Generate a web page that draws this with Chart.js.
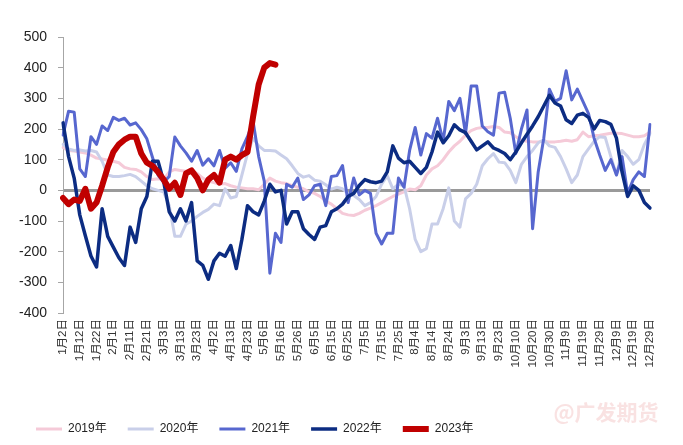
<!DOCTYPE html>
<html>
<head>
<meta charset="utf-8">
<script src="https://cdn.jsdelivr.net/npm/chart.js@4.4.0/dist/chart.umd.min.js"></script>
<style>
  html, body { margin: 0; padding: 0; background: #fff; }
  #wrap { width: 683px; height: 445px; position: relative; }
</style>
</head>
<body>
<div id="wrap"><canvas id="spreadChart"></canvas></div>
<script>
// tick labels on the date axis (one every 3 data points)
const dateLabels = ['1月2日','1月12日','1月22日','2月1日','2月11日','2月21日','3月3日','3月13日','3月23日',
  '4月2日','4月13日','4月23日','5月6日','5月16日','5月26日','6月5日','6月15日','6月25日','7月5日',
  '7月15日','7月25日','8月4日','8月14日','8月24日','9月3日','9月13日','9月23日','10月10日','10月20日',
  '10月30日','11月9日','11月19日','11月29日','12月9日','12月19日','12月29日'];

const yearNames = ['2019年', '2020年', '2021年', '2022年', '2023年'];

const v2019 = [140,130,128,125,122,115,105,102,98,95, 90,75,70,68,60,45,35,38,35,60,
  68,65,62,65,55,40,30,25,20,22, 15,10,8,5,5,2,20,40,30,25,
  22,15,10,5,-5,-10,-20,-35,-45,-60, -75,-80,-82,-75,-65,-58,-50,-40,-30,-20,
  -12,-5,4,2,15,50,70,80,100,125, 145,160,180,195,202,205,205,208,205,190,
  188,175,163,160,158,158,160,158,158,160, 163,160,165,190,175,178,180,183,186,186,
  185,180,175,175,178,190];

const v2020 = [150,135,130,132,128,130,125,95,50,45, 45,48,52,45,30,15,5,0,-5,-50,
  -150,-150,-110,-100,-85,-72,-62,-45,-50,5, -25,-20,50,120,170,145,130,130,128,115,
  103,80,55,43,48,33,30,18,4,10, 5,-10,-17,-30,-50,-40,-20,20,48,5,
  20,15,-60,-160,-200,-190,-110,-110,-60,8, -100,-120,-28,-10,20,80,103,120,92,90,
  65,25,85,110,130,155,165,145,140,110, 70,25,50,110,135,160,175,172,110,50,
  130,110,85,100,150,185];

const v2021 = [180,258,255,70,45,175,150,210,195,238, 228,235,213,220,198,168,108,50,26,45,
  174,145,122,95,130,82,103,80,130,72, 90,62,135,175,225,110,30,-270,-140,-170,
  20,10,40,-30,-15,15,20,-50,45,48, 81,-40,40,-15,0,-10,-140,-175,-140,-140,
  40,10,130,205,115,185,170,235,160,290, 260,300,185,340,340,210,191,180,317,320,
  235,120,200,262,-125,60,170,330,290,300, 390,295,330,290,250,170,115,65,100,50,
  110,-10,35,60,45,215];

const v2022 = [220,110,40,-80,-148,-214,-250,-60,-150,-185, -220,-245,-120,-170,-60,-20,95,95,30,-70,
  -100,-60,-100,-40,-230,-245,-290,-230,-205,-215, -180,-255,-160,-50,-70,-80,-35,20,-5,0,
  -110,-70,-70,-125,-144,-160,-120,-115,-70,-60, -45,-20,-10,16,35,28,25,30,60,145,
  105,90,95,75,55,75,125,190,155,178, 214,197,188,160,132,145,158,138,130,120,
  100,125,155,183,210,240,275,310,285,275, 230,218,245,251,238,200,228,224,215,170,
  60,-20,15,0,-40,-58];

const v2023 = [-25,-45,-30,-35,5,-60,-40,15,75,125, 150,165,175,175,120,90,80,60,35,5,
  25,-15,55,65,40,0,35,50,25,100, 110,100,115,125,240,345,400,415,410];

const yearColors = ['#f5cad8', '#c9cfe9', '#5767cf', '#0c2c82', '#c00000'];
const yearWidths = [3, 3, 3, 3.5, 6];

// every data point gets a slot on the category axis, only every 3rd one shows a date
const slotLabels = v2021.map((v, i) => (i % 3 === 0 ? dateLabels[i / 3] : ''));
const series = [v2019, v2020, v2021, v2022, v2023];

const datasets = series.map((data, i) => ({
  label: yearNames[i],
  data: data,
  borderColor: yearColors[i],
  backgroundColor: yearColors[i],
  borderWidth: yearWidths[i],
  pointRadius: 0,
  pointHoverRadius: 0,
  pointStyle: 'line',
  pointBorderColor: yearColors[i],
  pointBorderWidth: yearWidths[i],
  borderJoinStyle: 'round',
  borderCapStyle: 'round',
  tension: 0,
  order: 5 - i
}));

// faint watermark in the bottom right corner
const watermark = {
  id: 'watermark',
  afterDraw(chart) {
    const c = chart.ctx;
    c.save();
    c.font = 'bold 21px "Noto Sans CJK SC"';
    c.fillStyle = 'rgba(236, 160, 160, 0.30)';
    c.textAlign = 'center';
    c.textBaseline = 'middle';
    c.fillText('@广发期货', 606, 412);
    c.restore();
  }
};

const ctx = document.getElementById('spreadChart').getContext('2d');
new Chart(ctx, {
  type: 'line',
  data: { labels: slotLabels, datasets: datasets },
  plugins: [watermark],
  options: {
    responsive: true,
    maintainAspectRatio: false,
    animation: false,
    layout: { padding: { left: 15, right: 33, top: 37, bottom: 0 } },
    plugins: {
      tooltip: { enabled: false },
      legend: {
        position: 'bottom',
        align: 'start',
        labels: {
          usePointStyle: true,
          pointStyleWidth: 26,
          padding: 21,
          color: '#222',
          font: { family: '"Liberation Sans", "Noto Sans CJK SC"', size: 12 },
          sort: (a, b) => a.datasetIndex - b.datasetIndex
        }
      }
    },
    scales: {
      x: {
        grid: { display: false, drawTicks: false },
        border: { display: false },
        ticks: {
          autoSkip: false,
          minRotation: 90,
          maxRotation: 90,
          padding: 6,
          color: '#333',
          font: { family: '"Liberation Sans", "Noto Sans CJK SC"', size: 11.5 }
        },
        afterFit: (scale) => { scale.height = 89; }
      },
      y: {
        min: -400,
        max: 500,
        afterFit: (scale) => { scale.width = 48; },
        ticks: {
          stepSize: 100,
          padding: 11,
          color: '#222',
          font: { family: '"Liberation Sans"', size: 14 }
        },
        border: { display: true, color: '#a6a6a6', width: 1 },
        grid: {
          color: (c) => (c.tick && c.tick.value === 0 ? '#9a9a9a' : 'rgba(0,0,0,0)'),
          lineWidth: (c) => (c.tick && c.tick.value === 0 ? 3 : 1),
          tickColor: '#a6a6a6',
          tickWidth: 1,
          tickLength: 5
        }
      }
    }
  }
});
</script>
</body>
</html>
